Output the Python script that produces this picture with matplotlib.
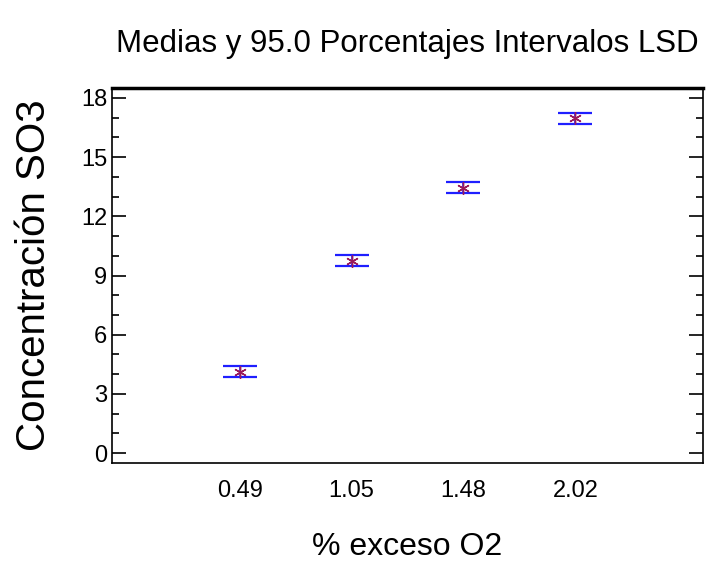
import numpy as np
import matplotlib.pyplot as plt
from matplotlib.ticker import MultipleLocator

niveles = ['0.49', '1.05', '1.48', '2.02']
medias = [4.12, 9.74, 13.45, 16.96]
semi_lsd = [0.28, 0.28, 0.28, 0.28]

plt.rcParams['font.family'] = ['Liberation Sans', 'DejaVu Sans']

fig = plt.figure(figsize=(7.12, 5.64), dpi=100)
ax = fig.add_axes([112/712, 1 - 463/564, 591/712, 375/564])

x = np.arange(len(niveles))
ax.errorbar(x, medias, yerr=semi_lsd, fmt='none', ecolor='#1f1fff',
            elinewidth=1.2, capsize=12, capthick=1.6)
ax.plot(x, medias, ls='none', marker=(6, 2, 0), ms=9, mew=1.0, color='#9a1a5a')

ax.set_xlim(-1.14, 4.14)
ax.set_ylim(-0.5, 18.5)
ax.set_xticks(x)
ax.set_xticklabels(niveles)
ax.yaxis.set_major_locator(MultipleLocator(3))
ax.yaxis.set_minor_locator(MultipleLocator(1))
ax.tick_params(axis='x', length=0, labelsize=17, pad=12)
ax.tick_params(axis='y', which='both', direction='in', right=True, labelsize=17, width=1.2)
ax.tick_params(axis='y', which='major', length=10)
ax.tick_params(axis='y', which='minor', length=5)
for s in ax.spines.values():
    s.set_linewidth(1.2)
ax.spines['top'].set_linewidth(2.5)

ax.set_title('Medias y 95.0 Porcentajes Intervalos LSD', fontsize=22.5, pad=26)
ax.set_xlabel('% exceso O2', fontsize=23, labelpad=22)
ax.set_ylabel('Concentración SO3', fontsize=29, labelpad=20)

fig.savefig('out.png', dpi=100)
